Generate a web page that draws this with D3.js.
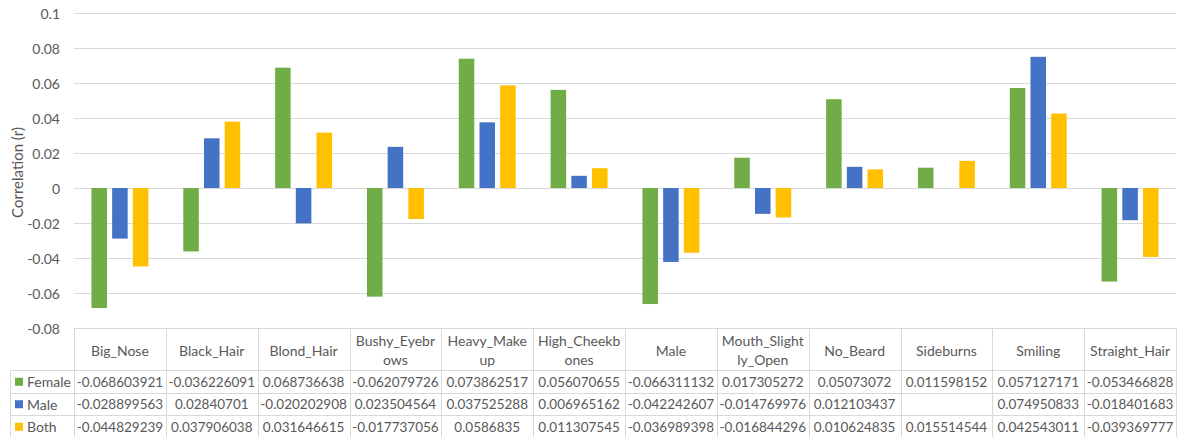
<!DOCTYPE html>
<html>
<head>
<meta charset="utf-8">
<script src="https://cdn.jsdelivr.net/npm/d3@7"></script>
<style>
  body { margin: 0; background: #fff; }
  text { font-family: Lato, "Open Sans", sans-serif; fill: #595959; }
</style>
</head>
<body>
<div id="chart"></div>
<script>
const categories = ["Big_Nose", "Black_Hair", "Blond_Hair", "Bushy_Eyebrows", "Heavy_Makeup", "High_Cheekbones",
    "Male", "Mouth_Slightly_Open", "No_Beard", "Sideburns", "Smiling", "Straight_Hair"]
// header labels as Excel wraps them
const headerLines = [["Big_Nose"], ["Black_Hair"], ["Blond_Hair"], ["Bushy_Eyebr", "ows"], ["Heavy_Make", "up"],
    ["High_Cheekb", "ones"], ["Male"], ["Mouth_Slight", "ly_Open"], ["No_Beard"], ["Sideburns"], ["Smiling"], ["Straight_Hair"]]
const female = [-0.068603921, -0.036226091, 0.068736638, -0.062079726, 0.073862517, 0.056070655,
    -0.066311132, 0.017305272, 0.05073072, 0.011598152, 0.057127171, -0.053466828]
const male = [-0.028899563, 0.02840701, -0.020202908, 0.023504564, 0.037525288, 0.006965162,
    -0.042242607, -0.014769976, 0.012103437, null, 0.074950833, -0.018401683]
const both = [-0.044829239, 0.037906038, 0.031646615, -0.017737056, 0.0586835, 0.011307545,
    -0.036989398, -0.016844296, 0.010624835, 0.015514544, 0.042543011, -0.039369777]
const seriesNames = ["Female", "Male", "Both"]
const yTicks = [-0.08, -0.06, -0.04, -0.02, 0, 0.02, 0.04, 0.06, 0.08, 0.1]

const series = [
    { name: "Female", values: female, color: "#70ad47" },
    { name: "Male", values: male, color: "#4472c4" },
    { name: "Both", values: both, color: "#ffc000" }
]

const W = 1178, H = 437
const plotLeft = 74, plotRight = 1176, plotTop = 13, plotBottom = 328
const legendLeft = 10
const headerBottom = 370, rowH = 22.5

const svg = d3.select("#chart").append("svg")
    .attr("width", W).attr("height", H)

const x0 = d3.scaleBand().domain(categories).range([plotLeft, plotRight]).padding(0)
const groupW = x0.bandwidth() * 0.62
const x1 = d3.scaleBand().domain(seriesNames).range([0, groupW]).paddingInner(0.25)
const y = d3.scaleLinear().domain([-0.08, 0.1]).range([plotBottom, plotTop])

// gridlines
svg.append("g")
    .selectAll("line").data(yTicks).join("line")
    .attr("x1", plotLeft).attr("x2", plotRight)
    .attr("y1", d => Math.round(y(d)) + 0.5).attr("y2", d => Math.round(y(d)) + 0.5)
    .attr("stroke", "#d9d9d9").attr("stroke-width", 1)

// y axis labels
const fmt = d => d === 0 ? "0" : String(+d.toFixed(2))
svg.append("g")
    .selectAll("text").data(yTicks).join("text")
    .attr("x", 60).attr("y", d => y(d))
    .attr("text-anchor", "end").attr("dominant-baseline", "central")
    .style("font-size", "14px")
    .text(fmt)

svg.append("text")
    .attr("transform", `translate(17,${(plotTop + plotBottom) / 2 + 2}) rotate(-90)`)
    .attr("text-anchor", "middle").attr("dominant-baseline", "central")
    .style("font-size", "15px")
    .text("Correlation (r)")

// bars
const groups = svg.append("g").selectAll("g").data(categories).join("g")
    .attr("transform", d => `translate(${x0(d) + (x0.bandwidth() - groupW) / 2},0)`)

groups.selectAll("rect")
    .data((c, i) => series.map(s => ({ s: s, v: s.values[i] })).filter(d => d.v !== null))
    .join("rect")
    .attr("x", d => x1(d.s.name))
    .attr("width", x1.bandwidth())
    .attr("y", d => y(Math.max(0, d.v)))
    .attr("height", d => Math.abs(y(d.v) - y(0)))
    .attr("fill", d => d.s.color)

// data table
const table = svg.append("g")
const lineColor = "#d9d9d9"
const rowTops = [headerBottom, headerBottom + rowH, headerBottom + 2 * rowH]
const tableBottom = headerBottom + 3 * rowH

// horizontal lines
table.append("line").attr("x1", legendLeft).attr("x2", plotRight)
    .attr("y1", headerBottom + 0.5).attr("y2", headerBottom + 0.5).attr("stroke", lineColor)
rowTops.slice(1).concat([tableBottom]).forEach(yy => {
    table.append("line").attr("x1", legendLeft).attr("x2", plotRight)
        .attr("y1", Math.round(yy) + 0.5).attr("y2", Math.round(yy) + 0.5).attr("stroke", lineColor)
})
// vertical lines
table.append("line").attr("x1", legendLeft + 0.5).attr("x2", legendLeft + 0.5)
    .attr("y1", headerBottom).attr("y2", tableBottom).attr("stroke", lineColor)
categories.concat(["_end"]).forEach((c, i) => {
    const xx = c === "_end" ? plotRight : x0(c)
    table.append("line").attr("x1", Math.round(xx) + 0.5).attr("x2", Math.round(xx) + 0.5)
        .attr("y1", plotBottom).attr("y2", tableBottom).attr("stroke", lineColor)
})

// header labels
categories.forEach((c, i) => {
    const lines = headerLines[i]
    const cx = x0(c) + x0.bandwidth() / 2
    const cy = (plotBottom + headerBottom) / 2 + 1
    lines.forEach((l, j) => {
        table.append("text")
            .attr("x", cx).attr("y", cy + (j - (lines.length - 1) / 2) * 19)
            .attr("text-anchor", "middle").attr("dominant-baseline", "central")
            .style("font-size", "14px")
            .text(l)
    })
})

// rows
series.forEach((s, r) => {
    const cy = rowTops[r] + rowH / 2 + 0.5
    table.append("rect").attr("x", 15).attr("y", cy - 4).attr("width", 8).attr("height", 8).attr("fill", s.color)
    table.append("text").attr("x", 27).attr("y", cy)
        .attr("dominant-baseline", "central").style("font-size", "14px").text(s.name)
    s.values.forEach((v, i) => {
        if (v === null) return
        table.append("text")
            .attr("x", x0(categories[i]) + x0.bandwidth() / 2).attr("y", cy)
            .attr("text-anchor", "middle").attr("dominant-baseline", "central")
            .style("font-size", "13.5px")
            .text(String(v))
    })
})
</script>
</body>
</html>
